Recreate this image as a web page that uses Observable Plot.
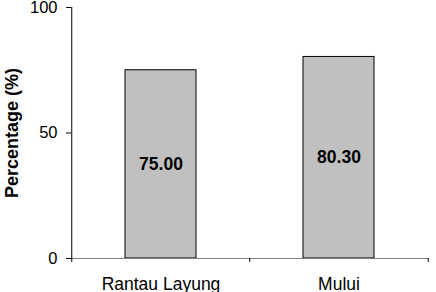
<!DOCTYPE html>
<html><head><meta charset="utf-8">
<script src="https://cdn.jsdelivr.net/npm/d3@7"></script>
<script src="https://cdn.jsdelivr.net/npm/@observablehq/plot@0.6"></script>
<style>body{margin:0;background:#fff}svg{display:block}</style>
</head><body><div id="chart"></div>
<script>
const categories = ["Rantau Layung", "Mului"];
const values = [75.00, 80.30];
const yTicks = [0, 50, 100];
const data = categories.map((c, i) => ({c, v: values[i]}));

const W = 436, H = 292, ml = 71, mr = 8, mt = 7, mb = 34;
const step = (W - ml - mr) / categories.length;
const font = "Arial, 'Liberation Sans', sans-serif";

const plot = Plot.plot({
  width: W, height: H,
  marginLeft: ml, marginRight: mr, marginTop: mt, marginBottom: mb,
  style: {fontFamily: font, background: "#fff", color: "#000", overflow: "visible"},
  x: {domain: categories, paddingInner: 0.6, paddingOuter: 0.3},
  y: {domain: [0, 100]},
  marks: [
    Plot.barY(data, {x: "c", y: "v", fill: "#c0c0c0", stroke: "#000", strokeWidth: 1}),
    Plot.text(data, {x: "c", y: d => d.v / 2, text: d => d.v.toFixed(2), fontWeight: "bold", fontSize: 17.5, fill: "#000"}),
    Plot.ruleY([0], {stroke: "#808080", strokeWidth: 1.2, insetLeft: -5}),
    Plot.ruleX(categories.slice(0, 1), {x: d => d, dx: -step / 2, y1: -1.6, y2: 100, stroke: "#000", strokeWidth: 1}),
    Plot.ruleX(categories.slice(1), {x: d => d, dx: -step / 2, y1: -1.6, y2: 0, stroke: "#000", strokeWidth: 1}),
    Plot.ruleX(categories.slice(-1), {x: d => d, dx: step / 2, y1: -1.6, y2: 0, stroke: "#000", strokeWidth: 1}),
    Plot.axisY({ticks: yTicks, tickSize: 5, tickPadding: 9, fontSize: 16.5, label: null, stroke: "#000"}),
    Plot.axisX({tickSize: 0, tickPadding: 19, fontSize: 17.5, label: null}),
    Plot.text(["Percentage (%)"], {frameAnchor: "left", textAnchor: "middle", dx: -59, rotate: -90, fontWeight: "bold", fontSize: 18, fill: "#000", y: () => 50})
  ]
});
document.getElementById("chart").appendChild(plot);
</script></body></html>
